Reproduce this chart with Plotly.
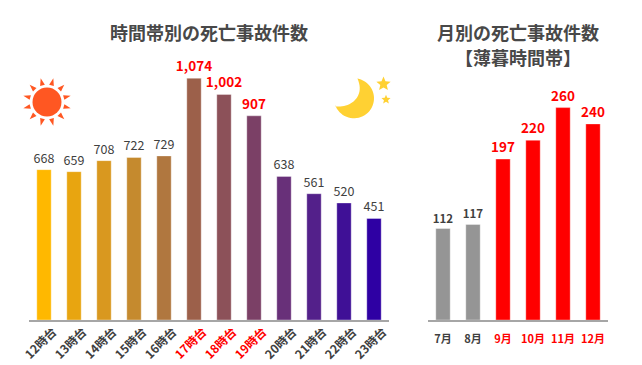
import math
import plotly.graph_objects as go

hours = ["12時台","13時台","14時台","15時台","16時台","17時台","18時台","19時台","20時台","21時台","22時台","23時台"]
hour_values = [668,659,708,722,729,1074,1002,907,638,561,520,451]
hour_colors = ["#FFB800","#E8A510","#D9981F","#C58A2E","#B0773F","#9C604A","#8C5159","#7B4066","#683079","#53208A","#3F1096","#2E00A3"]
months = ["7月","8月","9月","10月","11月","12月"]
month_values = [112,117,197,220,260,240]
month_colors = ["#959595","#959595","#FF0000","#FF0000","#FF0000","#FF0000"]
RED = "#FF0000"
INK = "#404040"
W, H = 642, 365
FONT = "Noto Sans CJK JP"

def px(x): return x / W
def py(y): return 1 - y / H

fig = go.Figure()
hour_text_colors = [RED if v >= 900 else INK for v in hour_values]
hour_labels = [f"{v:,}" for v in hour_values]
fig.add_trace(go.Bar(x=hours, y=hour_values, xaxis="x", yaxis="y",
    marker=dict(color=hour_colors, line=dict(color="rgba(255,255,255,0.35)", width=1)), width=0.48,
    text=[f"<b>{t}</b>" if v >= 900 else t for t, v in zip(hour_labels, hour_values)],
    textposition="outside", cliponaxis=False, textangle=0, constraintext="none",
    textfont=dict(family=FONT, size=[13.5 if v >= 900 else 12.5 for v in hour_values], color=hour_text_colors)))
fig.add_trace(go.Bar(x=months, y=month_values, xaxis="x2", yaxis="y2",
    marker=dict(color=month_colors, line=dict(color="rgba(255,255,255,0.35)", width=1)), width=0.48,
    text=[f"<b>{v}</b>" for v in month_values],
    textposition="outside", cliponaxis=False, textangle=0, constraintext="none",
    textfont=dict(family=FONT, size=[11.5, 11.5, 13.5, 13.5, 13.5, 13.5],
                  color=[RED if v >= 190 else INK for v in month_values])))

hour_ticks = [f'<span style="color:{RED}"><b>{h}</b></span>' if v >= 900 else f"<b>{h}</b>" for h, v in zip(hours, hour_values)]
month_ticks = [f'<span style="color:{RED}"><b>{m}</b></span>' if v >= 190 else f"<b>{m}</b>" for m, v in zip(months, month_values)]
axis_line = dict(showline=True, linecolor="#A6A6A6", linewidth=2, ticks="", showgrid=False, zeroline=False,
                 type="category", automargin=False)
fig.update_layout(
    width=W, height=H, margin=dict(l=0, r=0, t=0, b=0), autosize=False,
    paper_bgcolor="white", plot_bgcolor="white", showlegend=False,
    font=dict(family=FONT, color=INK),
    xaxis=dict(domain=[px(29), px(389)], anchor="y", tickmode="array", tickvals=hours, ticktext=hour_ticks,
               tickangle=-45, ticklabelshift=9, ticklabelstandoff=-2,
               tickfont=dict(size=12, color=INK, family=FONT), **axis_line),
    yaxis=dict(domain=[py(320), py(20)], range=[0, 300 / 0.2251], visible=False),
    xaxis2=dict(domain=[px(428), px(608)], anchor="y2", tickmode="array", tickvals=months, ticktext=month_ticks,
                tickangle=0, ticklabelstandoff=8, tickfont=dict(size=11, color=INK, family=FONT), **axis_line),
    yaxis2=dict(domain=[py(320), py(20)], range=[0, 300 / 0.817], visible=False),
)

for txt, x, y in [("時間帯別の死亡事故件数", 208.5, 32), ("月別の死亡事故件数", 518, 32), ("【薄暮時間帯】", 518, 57)]:
    fig.add_annotation(text=f"<b>{txt}</b>", xref="paper", yref="paper", x=px(x), y=py(y),
                       showarrow=False, xanchor="center", yanchor="middle",
                       font=dict(family=FONT, size=18, color="#484848"))

def shape_path(points):
    return "M " + " L ".join(f"{px(a)},{py(b)}" for a, b in points) + " Z"

# sun icon
cx, cy = 47, 102
fig.add_shape(type="circle", xref="paper", yref="paper", x0=px(cx-14.5), x1=px(cx+14.5), y0=py(cy+14.5), y1=py(cy-14.5),
              fillcolor="#FF5722", line_width=0)
for i in range(12):
    a = math.radians(15 + i * 30)
    pts = [(cx + 24.5*math.cos(a), cy + 24.5*math.sin(a)),
           (cx + 17.5*math.cos(a+0.14), cy + 17.5*math.sin(a+0.14)),
           (cx + 17.5*math.cos(a-0.14), cy + 17.5*math.sin(a-0.14))]
    fig.add_shape(type="path", xref="paper", yref="paper", path=shape_path(pts), fillcolor="#FF5722", line_width=0)

# moon icon: outer arc from the top tip round to the left tip, then the inner curve back
mx, my, R = 354, 98.3, 20
moon = []
for i in range(41):
    t = math.radians(-80 + i * 6.0)
    moon.append((mx + R*math.cos(t), my + R*math.sin(t)))
A = (325 + 25/3, 65 + 122/3)
B = (325 + 65/3, 65 + 135/3)
C = (325 + 125/3, 65 + 100/3)
D = (325 + 97/3, 65 + 40/3)
for i in range(1, 25):
    t = i / 24
    u = 1 - t
    moon.append(tuple(u**3*A[k] + 3*u*u*t*B[k] + 3*u*t*t*C[k] + t**3*D[k] for k in (0, 1)))
fig.add_shape(type="path", xref="paper", yref="paper", path=shape_path(moon), fillcolor="#FFD133", line_width=0)

def star(sx, sy, r):
    pts = []
    for i in range(10):
        a = -math.pi/2 + i * math.pi/5
        rr = r if i % 2 == 0 else r*0.45
        pts.append((sx + rr*math.cos(a), sy + rr*math.sin(a)))
    return shape_path(pts)
fig.add_shape(type="path", xref="paper", yref="paper", path=star(383.5, 84, 7.5), fillcolor="#FFD133", line_width=0)
fig.add_shape(type="path", xref="paper", yref="paper", path=star(386, 99.5, 4.8), fillcolor="#FFD133", line_width=0)

fig.write_html("out.html", config=dict(displayModeBar=False),
               post_script="document.body.style.margin='0';document.documentElement.style.overflow='hidden';")
